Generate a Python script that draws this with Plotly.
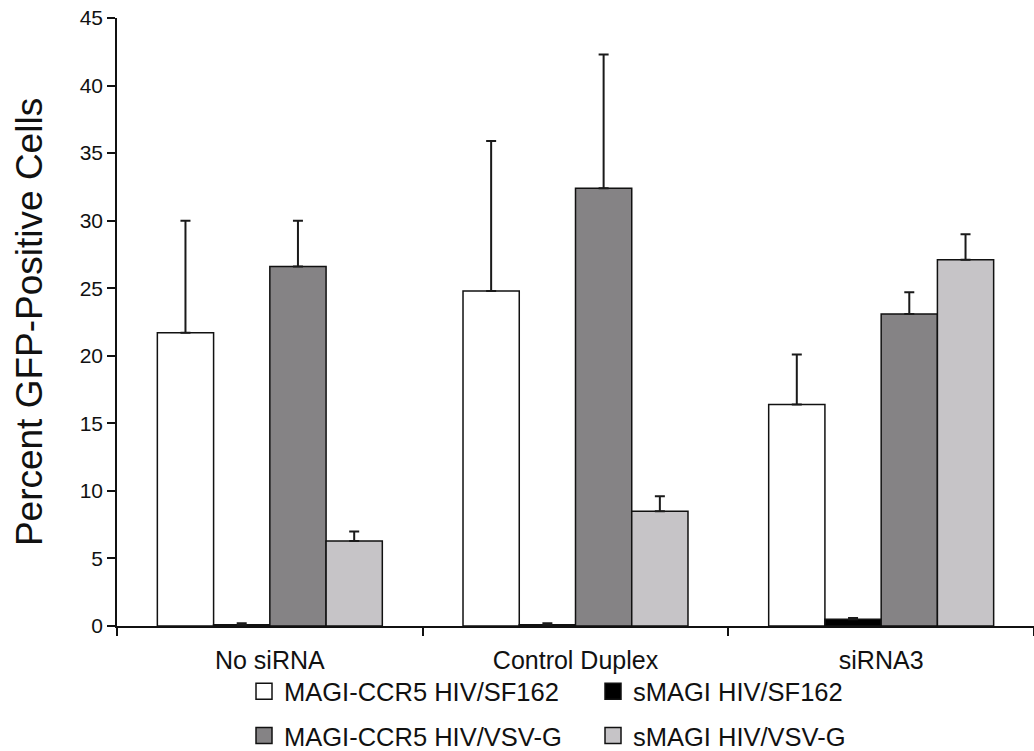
import plotly.graph_objects as go

categories = ["No siRNA", "Control Duplex", "siRNA3"]
series_names = ["MAGI-CCR5 HIV/SF162", "sMAGI HIV/SF162", "MAGI-CCR5 HIV/VSV-G", "sMAGI HIV/VSV-G"]
magi_sf162 = [21.7, 24.8, 16.4]
magi_sf162_err = [8.3, 11.1, 3.7]
smagi_sf162 = [0.1, 0.1, 0.5]
smagi_sf162_err = [0.1, 0.1, 0.1]
magi_vsvg = [26.6, 32.4, 23.1]
magi_vsvg_err = [3.4, 9.9, 1.6]
smagi_vsvg = [6.3, 8.5, 27.1]
smagi_vsvg_err = [0.7, 1.1, 1.9]
y_ticks = [0, 5, 10, 15, 20, 25, 30, 35, 40, 45]

values = [magi_sf162, smagi_sf162, magi_vsvg, smagi_vsvg]
errors = [magi_sf162_err, smagi_sf162_err, magi_vsvg_err, smagi_vsvg_err]
colors = ["#ffffff", "#000000", "#858385", "#c6c4c7"]
legends = ["legend", "legend", "legend2", "legend2"]

FONT = "Liberation Sans, Arial, sans-serif"
EDGE = "#111111"

fig = go.Figure()
for name, vals, errs, col in zip(series_names, values, errors, colors):
    fig.add_trace(go.Bar(
        x=categories, y=vals, name=name, showlegend=False,
        marker=dict(color=col, line=dict(color=EDGE, width=1.5)),
        error_y=dict(type="data", array=errs, arrayminus=[0] * len(errs), symmetric=False,
                     color="#1a1a1a", thickness=2, width=5),
    ))

# legend entries (square swatches)
for name, col, lg in zip(series_names, colors, legends):
    fig.add_trace(go.Scatter(
        x=[None], y=[None], mode="markers", name=name, legend=lg, showlegend=True,
        marker=dict(symbol="square", size=16, color=col, line=dict(color=EDGE, width=1.5)),
    ))

leg_common = dict(orientation="h", xanchor="left", yanchor="middle",
                  entrywidth=304, entrywidthmode="pixels",
                  font=dict(size=25.5, family=FONT, color="#111111"),
                  bgcolor="rgba(0,0,0,0)", itemsizing="trace")

fig.update_layout(
    width=1034, height=764,
    margin=dict(l=117, r=0, t=18, b=138),
    paper_bgcolor="white", plot_bgcolor="white",
    barmode="group", bargap=0.264, bargroupgap=0,
    font=dict(family=FONT, color="#111111"),
    showlegend=True,
    legend=dict(x=0.1385, y=-0.108, **leg_common),
    legend2=dict(x=0.1385, y=-0.181, **leg_common),
)
fig.update_xaxes(
    type="category", range=[-0.5, 2.5], automargin=False,
    showline=True, linecolor=EDGE, linewidth=1.5,
    ticks="outside", tickson="boundaries", ticklen=8, tickwidth=1.5, tickcolor=EDGE,
    tickfont=dict(size=25, family=FONT), ticklabelstandoff=11,
    showgrid=False, zeroline=False,
)
fig.update_yaxes(
    range=[0, 45], tickvals=y_ticks, automargin=False, ticklabeloverflow="allow",
    showline=True, linecolor=EDGE, linewidth=1.5,
    ticks="outside", ticklen=8, tickwidth=1.5, tickcolor=EDGE,
    tickfont=dict(size=21, family=FONT), showgrid=False, zeroline=False,
    title=dict(text="Percent GFP-Positive Cells", font=dict(size=37, family=FONT), standoff=26),
)

fig.write_html("out.html", config={"displayModeBar": False},
               post_script="document.body.style.margin='0px';")
